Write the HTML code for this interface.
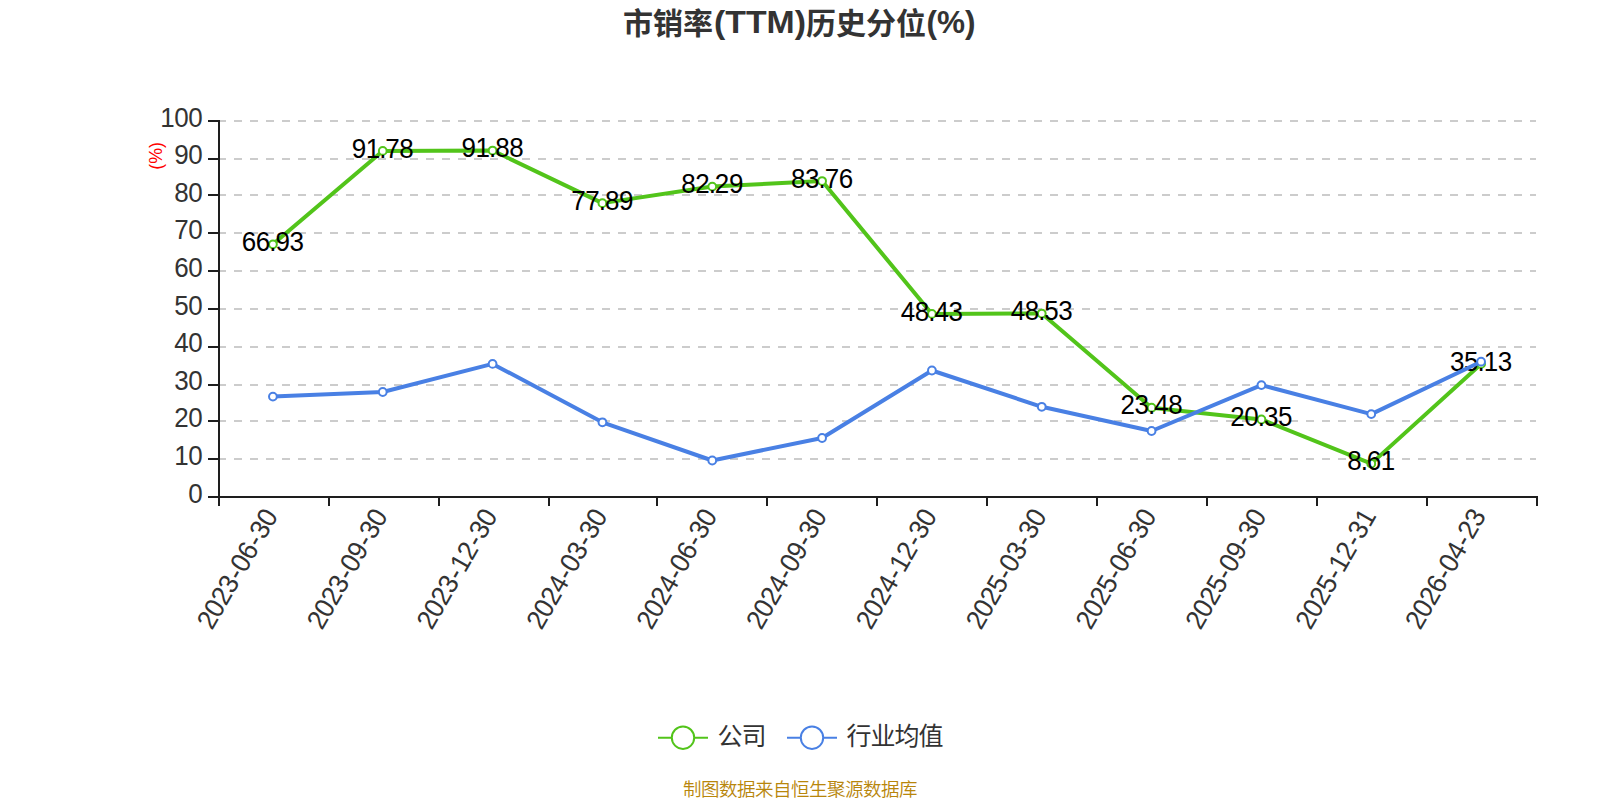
<!DOCTYPE html>
<html lang="zh-CN"><head><meta charset="utf-8"><title>市销率(TTM)历史分位(%)</title>
<style>
html,body{margin:0;padding:0;background:#fff;}
body{width:1600px;height:800px;overflow:hidden;}
svg{display:block;}
text{font-family:"Liberation Sans", "Noto Sans CJK SC", sans-serif;}
.ttl{font-size:30px;font-weight:700;fill:#333;}
.ax{font-size:26px;fill:#333;}
.dl{font-size:26px;fill:#000;}
.lg{font-size:25px;letter-spacing:-1px;fill:#333;font-weight:400;}
.ft{font-size:18.5px;letter-spacing:-0.5px;fill:#b8860b;font-weight:350;}
.un{font-size:18px;fill:#f00;}
</style></head><body>
<svg width="1600" height="800" viewBox="0 0 1600 800">
<rect width="1600" height="800" fill="#fff"/>
<g class="ttl">
<text x="623" y="34">市销率</text>
<text x="714" y="32.8" style="font-size:31.5px" textLength="92" lengthAdjust="spacingAndGlyphs">(TTM)</text>
<text x="806" y="34">历史分位</text>
<text x="926.5" y="32.8" style="font-size:31.5px" textLength="49" lengthAdjust="spacingAndGlyphs">(%)</text>
</g>
<g stroke="#ccc" stroke-width="2" stroke-dasharray="8 8" fill="none">
<line x1="218" y1="459" x2="1536" y2="459"/>
<line x1="218" y1="421" x2="1536" y2="421"/>
<line x1="218" y1="385" x2="1536" y2="385"/>
<line x1="218" y1="347" x2="1536" y2="347"/>
<line x1="218" y1="309" x2="1536" y2="309"/>
<line x1="218" y1="271" x2="1536" y2="271"/>
<line x1="218" y1="233" x2="1536" y2="233"/>
<line x1="218" y1="195" x2="1536" y2="195"/>
<line x1="218" y1="159" x2="1536" y2="159"/>
<line x1="218" y1="121" x2="1536" y2="121"/>
</g>
<g stroke="#1e1e1e" stroke-width="2" fill="none">
<line x1="219" y1="120" x2="219" y2="498"/>
<line x1="218" y1="497" x2="1538" y2="497"/>
<line x1="208" y1="497" x2="218" y2="497"/>
<line x1="208" y1="459" x2="218" y2="459"/>
<line x1="208" y1="421" x2="218" y2="421"/>
<line x1="208" y1="385" x2="218" y2="385"/>
<line x1="208" y1="347" x2="218" y2="347"/>
<line x1="208" y1="309" x2="218" y2="309"/>
<line x1="208" y1="271" x2="218" y2="271"/>
<line x1="208" y1="233" x2="218" y2="233"/>
<line x1="208" y1="195" x2="218" y2="195"/>
<line x1="208" y1="159" x2="218" y2="159"/>
<line x1="208" y1="121" x2="218" y2="121"/>
<line x1="219" y1="497" x2="219" y2="506"/>
<line x1="329" y1="497" x2="329" y2="506"/>
<line x1="439" y1="497" x2="439" y2="506"/>
<line x1="549" y1="497" x2="549" y2="506"/>
<line x1="657" y1="497" x2="657" y2="506"/>
<line x1="767" y1="497" x2="767" y2="506"/>
<line x1="877" y1="497" x2="877" y2="506"/>
<line x1="987" y1="497" x2="987" y2="506"/>
<line x1="1097" y1="497" x2="1097" y2="506"/>
<line x1="1207" y1="497" x2="1207" y2="506"/>
<line x1="1317" y1="497" x2="1317" y2="506"/>
<line x1="1427" y1="497" x2="1427" y2="506"/>
<line x1="1537" y1="497" x2="1537" y2="506"/>
</g>
<g class="ax">
<text transform="translate(0 502.50) scale(1 1.055)" x="188.27" y="0">0</text>
<text transform="translate(0 464.90) scale(1 1.055)" x="174.26 188.27" y="0">10</text>
<text transform="translate(0 427.30) scale(1 1.055)" x="174.26 188.27" y="0">20</text>
<text transform="translate(0 389.70) scale(1 1.055)" x="174.26 188.27" y="0">30</text>
<text transform="translate(0 352.10) scale(1 1.055)" x="174.26 188.27" y="0">40</text>
<text transform="translate(0 314.50) scale(1 1.055)" x="174.26 188.27" y="0">50</text>
<text transform="translate(0 276.90) scale(1 1.055)" x="174.26 188.27" y="0">60</text>
<text transform="translate(0 239.30) scale(1 1.055)" x="174.26 188.27" y="0">70</text>
<text transform="translate(0 201.70) scale(1 1.055)" x="174.26 188.27" y="0">80</text>
<text transform="translate(0 164.10) scale(1 1.055)" x="174.26 188.27" y="0">90</text>
<text transform="translate(0 126.50) scale(1 1.055)" x="160.26 174.26 188.27" y="0">100</text>
</g>
<text class="un" text-anchor="middle" transform="translate(162.3 155.9) rotate(-90)" textLength="27.8" lengthAdjust="spacingAndGlyphs">(%)</text>
<g class="ax">
<text transform="translate(278.52 516.00) rotate(-60) scale(1 1.055)" x="-132.90 -118.90 -104.89 -90.89 -75.83 -66.56 -52.56 -37.50 -28.24 -14.23" y="0">2023-06-30</text>
<text transform="translate(388.35 516.00) rotate(-60) scale(1 1.055)" x="-132.90 -118.90 -104.89 -90.89 -75.83 -66.56 -52.56 -37.50 -28.24 -14.23" y="0">2023-09-30</text>
<text transform="translate(498.18 516.00) rotate(-60) scale(1 1.055)" x="-132.90 -118.90 -104.89 -90.89 -75.83 -66.56 -52.56 -37.50 -28.24 -14.23" y="0">2023-12-30</text>
<text transform="translate(608.02 516.00) rotate(-60) scale(1 1.055)" x="-132.90 -118.90 -104.89 -90.89 -75.83 -66.56 -52.56 -37.50 -28.24 -14.23" y="0">2024-03-30</text>
<text transform="translate(717.85 516.00) rotate(-60) scale(1 1.055)" x="-132.90 -118.90 -104.89 -90.89 -75.83 -66.56 -52.56 -37.50 -28.24 -14.23" y="0">2024-06-30</text>
<text transform="translate(827.68 516.00) rotate(-60) scale(1 1.055)" x="-132.90 -118.90 -104.89 -90.89 -75.83 -66.56 -52.56 -37.50 -28.24 -14.23" y="0">2024-09-30</text>
<text transform="translate(937.52 516.00) rotate(-60) scale(1 1.055)" x="-132.90 -118.90 -104.89 -90.89 -75.83 -66.56 -52.56 -37.50 -28.24 -14.23" y="0">2024-12-30</text>
<text transform="translate(1047.35 516.00) rotate(-60) scale(1 1.055)" x="-132.90 -118.90 -104.89 -90.89 -75.83 -66.56 -52.56 -37.50 -28.24 -14.23" y="0">2025-03-30</text>
<text transform="translate(1157.18 516.00) rotate(-60) scale(1 1.055)" x="-132.90 -118.90 -104.89 -90.89 -75.83 -66.56 -52.56 -37.50 -28.24 -14.23" y="0">2025-06-30</text>
<text transform="translate(1267.02 516.00) rotate(-60) scale(1 1.055)" x="-132.90 -118.90 -104.89 -90.89 -75.83 -66.56 -52.56 -37.50 -28.24 -14.23" y="0">2025-09-30</text>
<text transform="translate(1376.85 516.00) rotate(-60) scale(1 1.055)" x="-132.90 -118.90 -104.89 -90.89 -75.83 -66.56 -52.56 -37.50 -28.24 -14.23" y="0">2025-12-31</text>
<text transform="translate(1486.68 516.00) rotate(-60) scale(1 1.055)" x="-132.90 -118.90 -104.89 -90.89 -75.83 -66.56 -52.56 -37.50 -28.24 -14.23" y="0">2026-04-23</text>
</g>
<polyline points="272.92,244.34 382.75,150.91 492.58,150.53 602.42,203.13 712.25,186.59 822.08,181.06 931.92,313.90 1041.75,313.53 1151.58,407.72 1261.42,419.48 1371.25,463.63 1481.08,363.91" fill="none" stroke="#52c41a" stroke-width="4" stroke-linejoin="bevel"/>
<g fill="#fff" stroke="#52c41a" stroke-width="2">
<circle cx="272.92" cy="244.34" r="3.9"/>
<circle cx="382.75" cy="150.91" r="3.9"/>
<circle cx="492.58" cy="150.53" r="3.9"/>
<circle cx="602.42" cy="203.13" r="3.9"/>
<circle cx="712.25" cy="186.59" r="3.9"/>
<circle cx="822.08" cy="181.06" r="3.9"/>
<circle cx="931.92" cy="313.90" r="3.9"/>
<circle cx="1041.75" cy="313.53" r="3.9"/>
<circle cx="1151.58" cy="407.72" r="3.9"/>
<circle cx="1261.42" cy="419.48" r="3.9"/>
<circle cx="1371.25" cy="463.63" r="3.9"/>
<circle cx="1481.08" cy="363.91" r="3.9"/>
</g>
<g class="dl">
<text transform="translate(0 250.94) scale(1 1.055)" x="241.83 255.83 269.31 275.54 289.54" y="0">66.93</text>
<text transform="translate(0 157.51) scale(1 1.055)" x="351.66 365.67 379.14 385.37 399.38" y="0">91.78</text>
<text transform="translate(0 157.13) scale(1 1.055)" x="461.50 475.50 488.97 495.20 509.21" y="0">91.88</text>
<text transform="translate(0 209.73) scale(1 1.055)" x="571.33 585.33 598.81 605.04 619.04" y="0">77.89</text>
<text transform="translate(0 193.19) scale(1 1.055)" x="681.16 695.17 708.64 714.87 728.88" y="0">82.29</text>
<text transform="translate(0 187.66) scale(1 1.055)" x="791.00 805.00 818.47 824.70 838.71" y="0">83.76</text>
<text transform="translate(0 320.50) scale(1 1.055)" x="900.83 914.83 928.31 934.54 948.54" y="0">48.43</text>
<text transform="translate(0 320.13) scale(1 1.055)" x="1010.66 1024.67 1038.14 1044.37 1058.38" y="0">48.53</text>
<text transform="translate(0 414.32) scale(1 1.055)" x="1120.50 1134.50 1147.97 1154.20 1168.21" y="0">23.48</text>
<text transform="translate(0 426.08) scale(1 1.055)" x="1230.33 1244.33 1257.81 1264.04 1278.04" y="0">20.35</text>
<text transform="translate(0 470.23) scale(1 1.055)" x="1347.17 1360.64 1366.87 1380.87" y="0">8.61</text>
<text transform="translate(0 370.51) scale(1 1.055)" x="1450.00 1464.00 1477.47 1483.70 1497.71" y="0">35.13</text>
</g>
<polyline points="272.92,396.60 382.75,392.00 492.58,363.90 602.42,422.30 712.25,460.50 822.08,438.00 931.92,370.50 1041.75,406.80 1151.58,431.00 1261.42,385.10 1371.25,414.10 1481.08,361.70" fill="none" stroke="#4980e4" stroke-width="4" stroke-linejoin="bevel"/>
<g fill="#fff" stroke="#4980e4" stroke-width="2">
<circle cx="272.92" cy="396.60" r="3.9"/>
<circle cx="382.75" cy="392.00" r="3.9"/>
<circle cx="492.58" cy="363.90" r="3.9"/>
<circle cx="602.42" cy="422.30" r="3.9"/>
<circle cx="712.25" cy="460.50" r="3.9"/>
<circle cx="822.08" cy="438.00" r="3.9"/>
<circle cx="931.92" cy="370.50" r="3.9"/>
<circle cx="1041.75" cy="406.80" r="3.9"/>
<circle cx="1151.58" cy="431.00" r="3.9"/>
<circle cx="1261.42" cy="385.10" r="3.9"/>
<circle cx="1371.25" cy="414.10" r="3.9"/>
<circle cx="1481.08" cy="361.70" r="3.9"/>
</g>
<g fill="#fff" stroke-width="2">
<line x1="658" y1="737.7" x2="708" y2="737.7" stroke="#52c41a"/>
<circle cx="683" cy="737.7" r="11.2" stroke="#52c41a"/>
<line x1="787" y1="737.7" x2="837" y2="737.7" stroke="#4980e4"/>
<circle cx="812" cy="737.7" r="11.2" stroke="#4980e4"/>
</g>
<text class="lg" x="717.6" y="744.8">公司</text>
<text class="lg" x="846.6" y="744.8">行业均值</text>
<text class="ft" x="800" y="795.5" text-anchor="middle">制图数据来自恒生聚源数据库</text>
</svg>
</body></html>
